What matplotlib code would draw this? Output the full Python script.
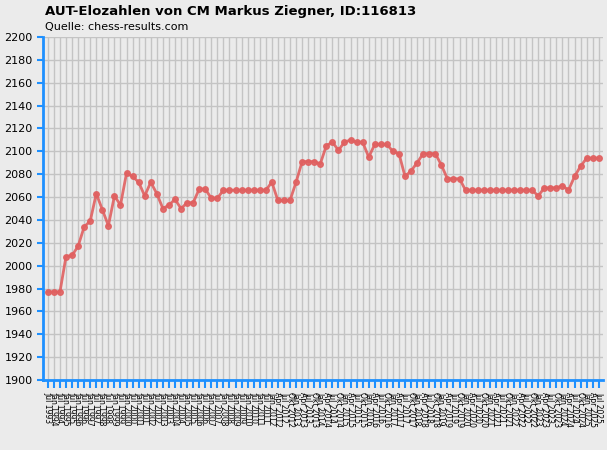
import matplotlib.pyplot as plt

elo = [1977, 1977, 1977, 2008, 2009, 2017, 2034, 2039, 2063, 2049,
       2035, 2061, 2053, 2081, 2078, 2073, 2061, 2073, 2063, 2050,
       2053, 2058, 2050, 2055, 2055, 2067, 2067, 2059, 2059, 2066,
       2066, 2066, 2066, 2066, 2066, 2066, 2066, 2073, 2057, 2057,
       2057, 2073, 2091, 2091, 2091, 2089, 2105, 2108, 2101, 2108,
       2110, 2108, 2108, 2095, 2106, 2106, 2106, 2100, 2098, 2078,
       2083, 2090, 2098, 2098, 2098, 2088, 2076, 2076, 2076, 2066,
       2066, 2066, 2066, 2066, 2066, 2066, 2066, 2066, 2066, 2066,
       2066, 2061, 2068, 2068, 2068, 2070, 2066, 2078, 2087, 2094,
       2094, 2094]

# Halbjahre bis 2012, danach Quartale
labels = []
for y in range(1993, 2012):
    labels += ["Jul %d" % y, "Jan %d" % (y + 1)]
for y in range(2012, 2026):
    for m in ["Apr", "Jul", "Okt", "Jan"]:
        labels.append("%s %d" % (m, y + 1 if m == "Jan" else y))
labels = labels[:len(elo)]

bg = "#ebebeb"
blue = "#1e90ff"
fig = plt.figure(figsize=(6.07, 4.5), dpi=100, facecolor=bg)
ax = fig.add_axes([43/607, 70/450, 560/607, 343/450], facecolor=bg)

x = range(len(elo))
ax.plot(x, elo, color="#e06060", lw=2, marker="o", ms=4, alpha=0.9, zorder=3)

ax.set_xlim(-0.8, len(elo) - 0.3)
ax.set_ylim(1900, 2200)
ax.set_yticks(range(1900, 2201, 20))
ax.set_xticks(list(x))
ax.set_xticklabels(labels, rotation=-90, fontsize=5.5)
ax.tick_params(axis="y", labelsize=8, color=blue, length=4, width=1.5)
ax.tick_params(axis="x", color=blue, length=6, width=1.5, pad=3)
ax.grid(True, color="#c4c4c4", lw=1)
for s in ["top", "right"]:
    ax.spines[s].set_visible(False)
for s in ["left", "bottom"]:
    ax.spines[s].set_color(blue)
    ax.spines[s].set_linewidth(2)

fig.text(45/607, 1 - 12/450, "AUT-Elozahlen von CM Markus Ziegner, ID:116813",
         fontsize=9.5, fontweight="bold", va="center")
fig.text(45/607, 1 - 27/450, "Quelle: chess-results.com", fontsize=8, va="center")

fig.savefig("out.png", dpi=100, facecolor=bg)
